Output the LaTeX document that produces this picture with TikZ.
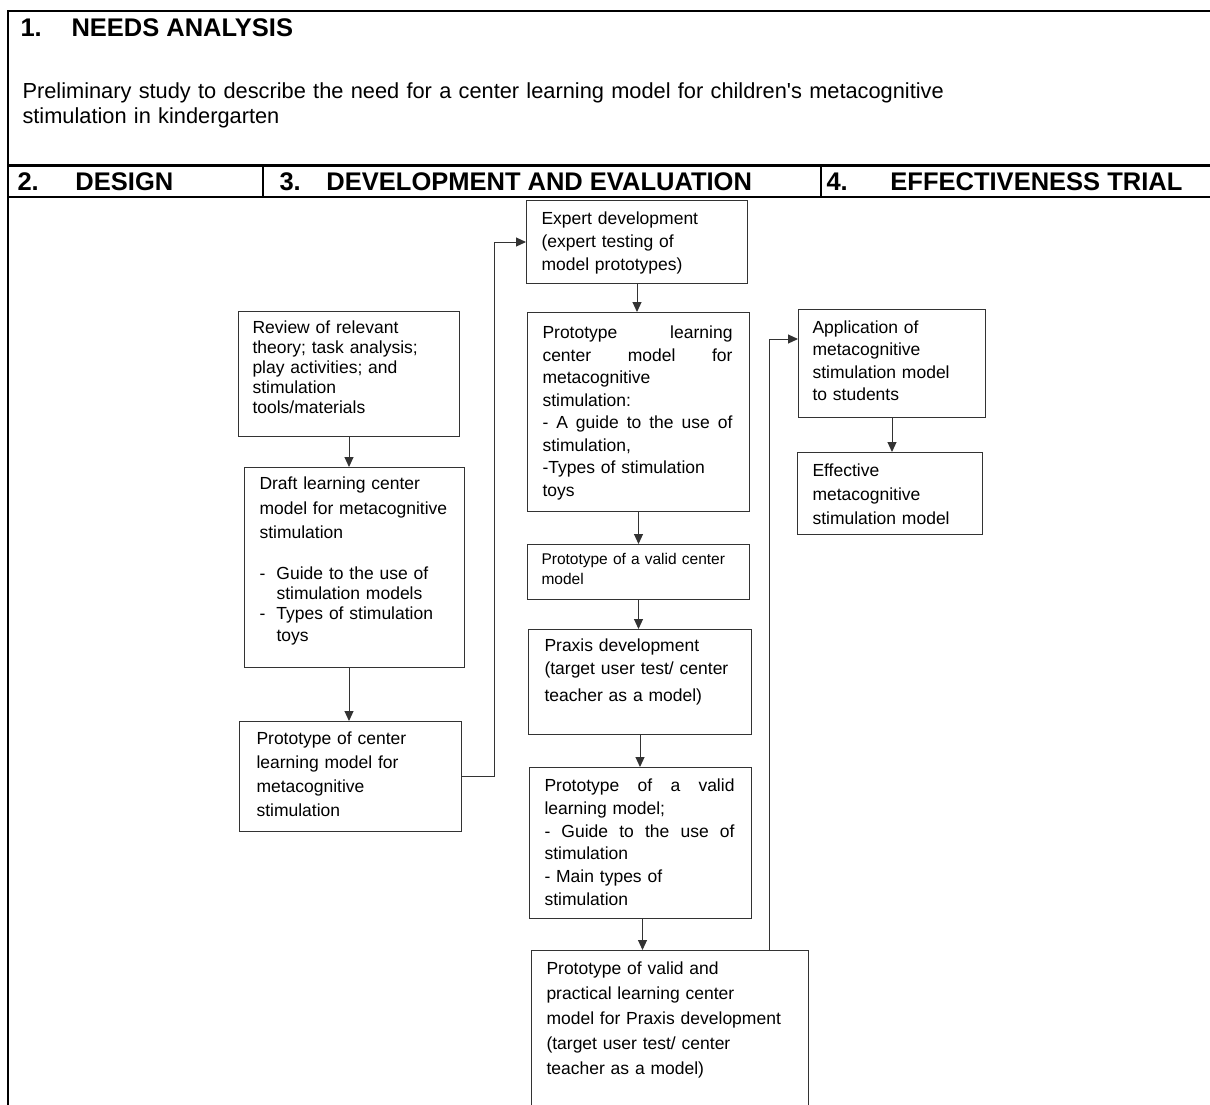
\documentclass[tikz,border=0pt]{standalone}
\usepackage{fontspec}
\setmainfont{Liberation Sans}[Ligatures=TeXOff]
\usetikzlibrary{arrows.meta}

\definecolor{linegray}{HTML}{333333}
\newcommand{\boxfont}[1]{\fontsize{17.5pt}{#1pt}\selectfont}
\newcommand{\jline}[1]{\makebox[190pt][s]{\spaceskip=.28em plus 1fil\relax #1}}
\newcommand{\itm}[1]{\makebox[17pt][l]{-}#1}
\newcommand{\ind}{\hspace*{17pt}}

\begin{document}
\begin{tikzpicture}[x=1pt, y=-1pt, >={Triangle[length=10pt, width=9pt]}, line width=1pt]

  \tikzstyle{box}=[draw=linegray, anchor=north west, inner xsep=15pt, inner ysep=0pt, align=left]
  \tikzstyle{frame}=[line width=2.2pt, black]
  \tikzstyle{link}=[->, draw=linegray]
  \tikzstyle{head}=[anchor=base west, inner sep=0pt, font=\fontsize{25.5pt}{29pt}\selectfont\bfseries]

  \clip (0,0) rectangle (1210,1104);

  % table frame
  \draw[frame] (8,1110) -- (8,11) -- (1215,11);
  \draw[frame] (8,165.5) -- (1215,165.5);
  \draw[frame] (8,197) -- (1215,197);
  \draw[frame] (263,165.5) -- (263,197);
  \draw[frame] (821,165.5) -- (821,197);

  % headings
  \node[head] (needs) at (20,36) {\makebox[51pt][l]{1.}NEEDS ANALYSIS};
  \node[anchor=base west, inner sep=0pt, align=left, text width=1000pt,
        font=\fontsize{21.8pt}{24.5pt}\selectfont] (intro) at (22,98.5)
    {Preliminary study to describe the need for a center learning model for children's metacognitive\\
     stimulation in kindergarten};
  \node[head] (design) at (17,190.7) {\makebox[58pt][l]{2.}DESIGN};
  \node[head] (develop) at (279,190.7) {\makebox[47pt][l]{3.}DEVELOPMENT AND EVALUATION};
  \node[head] (trial) at (826,190.7) {\makebox[64pt][l]{4.}EFFECTIVENESS TRIAL};

  % design column
  \node[box, inner xsep=14pt, text width=193pt, text height=22pt, text depth=103pt, font=\boxfont{20}]
    (review) at (238,311)
    {Review of relevant\\ theory; task analysis;\\ play activities; and\\ stimulation\\ tools/materials};
  \node[box, text width=190pt, text height=22pt, text depth=178pt, font=\boxfont{20}]
    (draft) at (244,467)
    {Draft learning center\\[5pt] model for metacognitive\\[4pt] stimulation\\[21pt]
     \itm{Guide to the use of}\\ \ind stimulation models\\ \itm{Types of stimulation}\\[2pt] \ind toys};
  \node[box, inner xsep=17pt, text width=188pt, text height=23pt, text depth=87pt, font=\boxfont{24}]
    (proto) at (239,721)
    {Prototype of center\\ learning model for\\ metacognitive\\ stimulation};

  % development and evaluation column
  \node[box, text width=191pt, text height=24pt, text depth=59pt, font=\boxfont{23}]
    (expert) at (526,200)
    {Expert development\\ (expert testing of\\ model prototypes)};
  \node[box, text width=192pt, text height=26pt, text depth=173pt, font=\boxfont{22.5}]
    (proto2) at (527,312)
    {\jline{Prototype learning}\\ \jline{center model for}\\ metacognitive\\ stimulation:\\
     \jline{- A guide to the use of}\\ stimulation,\\ -Types of stimulation\\ toys};
  \node[box, inner xsep=14pt, text width=194pt, text height=20pt, text depth=35pt,
        font=\fontsize{15.5pt}{20pt}\selectfont]
    (validc) at (527,544)
    {Prototype of a valid center\\ model};
  \node[box, inner xsep=16pt, text width=191pt, text height=22pt, text depth=83pt, font=\boxfont{23}]
    (praxis) at (528,629)
    {Praxis development\\ (target user test/ center\\[4pt] teacher as a model)};
  \node[box, text width=192pt, text height=24pt, text depth=127pt, font=\boxfont{22.8}]
    (validl) at (529,767)
    {\jline{Prototype of a valid}\\ learning model;\\ \jline{- Guide to the use of}\\ stimulation\\
     - Main types of\\ stimulation};
  \node[box, text width=247pt, text height=24pt, text depth=146pt, font=\boxfont{25}]
    (final) at (531,950)
    {Prototype of valid and\\ practical learning center\\ model for Praxis development\\
     (target user test/ center\\ teacher as a model)};

  % effectiveness trial column
  \node[box, inner xsep=14pt, text width=159pt, text height=24pt, text depth=84pt, font=\boxfont{22.3}]
    (apply) at (798,309)
    {Application of\\ metacognitive\\ stimulation model\\ to students};
  \node[box, text width=155pt, text height=24pt, text depth=58pt, font=\boxfont{24}]
    (effective) at (797,452)
    {Effective\\ metacognitive\\ stimulation model};

  % connectors
  \draw[link] (review.south) -- (review.south |- draft.north);
  \draw[link] (draft.south -| review.south) -- (proto.north -| review.south);
  \draw[link] (proto.east) -- ++(32,0) |- (expert.west);
  \draw[link] (expert.south) -- (expert.south |- proto2.north);
  \draw[link] (proto2.south) -- (proto2.south |- validc.north);
  \draw[link] (validc.south) -- (validc.south |- praxis.north);
  \draw[link] (praxis.south) -- (praxis.south |- validl.north);
  \draw[link] ([xshift=2pt]validl.south) -- ([xshift=2pt]validl.south |- final.north);
  \draw[link] ([xshift=-40pt]final.north east) |- ([yshift=-30pt]apply.north west);
  \draw[link] (apply.south) -- (apply.south |- effective.north);

\end{tikzpicture}
\end{document}
